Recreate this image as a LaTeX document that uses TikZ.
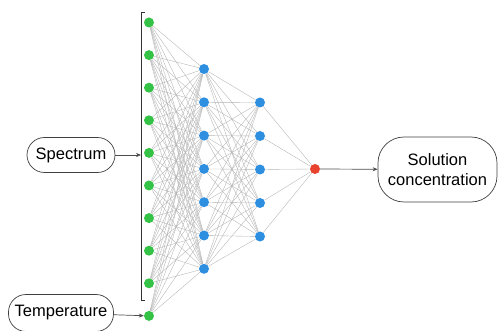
\documentclass[tikz,border=0pt]{standalone}
\usepackage{fontspec}
\setmainfont{Liberation Sans}
\usetikzlibrary{arrows.meta,positioning,backgrounds}

\definecolor{ingreen}{HTML}{34C247}
\definecolor{hidblue}{HTML}{2E8FE0}
\definecolor{outred}{HTML}{E8432E}

\begin{document}
\begin{tikzpicture}[x=1pt, y=-1pt,
    neuron/.style={circle, inner sep=0pt, minimum size=10pt},
    conn/.style={draw=gray!60, line width=0.35pt},
    term/.style={draw=black!75, line width=0.7pt, rounded corners=17.5pt, align=center,
      font=\fontsize{16.5}{20}\selectfont, inner sep=2pt},
    arr/.style={-{Stealth[length=5pt,width=4pt]}, draw=black!70, line width=0.7pt}]
        \useasboundingbox (0,0) rectangle (498,331);
        % layers
        \foreach \i in {1,...,10}
          \node[neuron, fill=ingreen] (in\i) at (149, 22.5+32.6*\i-32.6) {};
        \foreach \j in {1,...,7}
          \node[neuron, fill=hidblue] (ha\j) at (204, 69+33.3*\j-33.3) {};
        \foreach \k in {1,...,5}
          \node[neuron, fill=hidblue] (hb\k) at (260, 102.5+33.5*\k-33.5) {};
        \node[neuron, fill=outred] (out) at (315, 169) {};
        % connections
        \begin{scope}[on background layer]
          \foreach \i in {1,...,10}
            \foreach \j in {1,...,7}
              \draw[conn] (in\i) -- (ha\j);
          \foreach \j in {1,...,7}
            \foreach \k in {1,...,5}
              \draw[conn] (ha\j) -- (hb\k);
          \foreach \k in {1,...,5}
            \draw[conn] (hb\k) -- (out);
        \end{scope}
        % bracket for the spectrum inputs
        \coordinate (bt) at (141, 12);
        \coordinate (bb) at (141, 300);
        \draw[black!80, line width=0.9pt] ([xshift=4pt]bt) -- (bt) -- (bb) -- ([xshift=4pt]bb);
        \coordinate (bm) at (141, 155);
        % terminals
        \node[term, minimum width=88pt, minimum height=35pt] (spec) at (71, 155) {Spectrum};
        \node[term, minimum width=105pt, minimum height=37pt] (temp) at (61, 313) {Temperature};
        \node[term, minimum width=119pt, minimum height=65pt, rounded corners=26pt] (sol) at (437.5, 169.5) {Solution\\concentration};
        \draw[arr] (spec) -- (bm);
        \draw[arr] (temp) -- (in10);
        \draw[arr] (out) -- (sol);
      \end{tikzpicture}
\end{document}
